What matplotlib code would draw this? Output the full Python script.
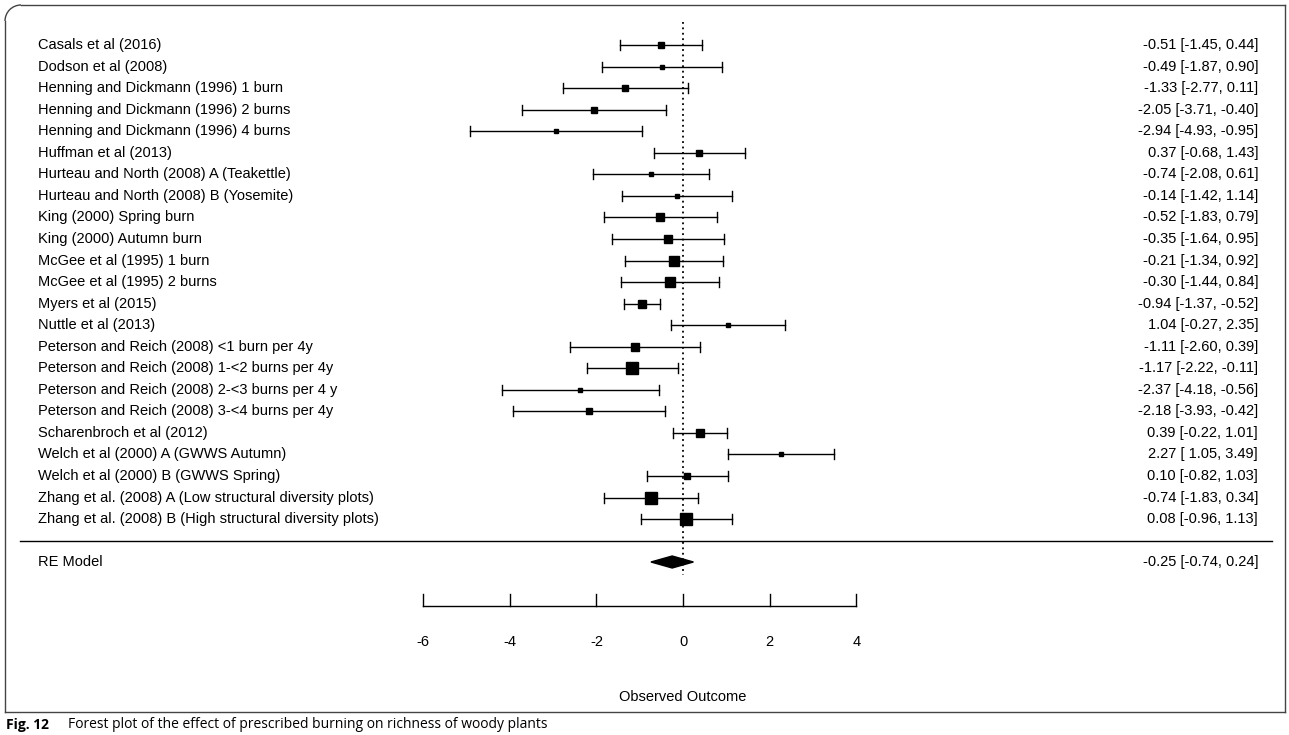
import matplotlib
matplotlib.use("Agg")
import matplotlib.pyplot as plt
from matplotlib.patches import Polygon, Arc

studies = ["Casals et al (2016)", "Dodson et al (2008)", "Henning and Dickmann (1996) 1 burn",
 "Henning and Dickmann (1996) 2 burns", "Henning and Dickmann (1996) 4 burns", "Huffman et al (2013)",
 "Hurteau and North (2008) A (Teakettle)", "Hurteau and North (2008) B (Yosemite)",
 "King (2000) Spring burn", "King (2000) Autumn burn", "McGee et al (1995) 1 burn",
 "McGee et al (1995) 2 burns", "Myers et al (2015)", "Nuttle et al (2013)",
 "Peterson and Reich (2008) <1 burn per 4y", "Peterson and Reich (2008) 1-<2 burns per 4y",
 "Peterson and Reich (2008) 2-<3 burns per 4 y", "Peterson and Reich (2008) 3-<4 burns per 4y",
 "Scharenbroch et al (2012)", "Welch et al (2000) A (GWWS Autumn)", "Welch et al (2000) B (GWWS Spring)",
 "Zhang et al. (2008) A (Low structural diversity plots)",
 "Zhang et al. (2008) B (High structural diversity plots)"]
est = [-0.51,-0.49,-1.33,-2.05,-2.94,0.37,-0.74,-0.14,-0.52,-0.35,-0.21,-0.30,-0.94,1.04,-1.11,-1.17,-2.37,-2.18,0.39,2.27,0.10,-0.74,0.08]
lo = [-1.45,-1.87,-2.77,-3.71,-4.93,-0.68,-2.08,-1.42,-1.83,-1.64,-1.34,-1.44,-1.37,-0.27,-2.60,-2.22,-4.18,-3.93,-0.22,1.05,-0.82,-1.83,-0.96]
hi = [0.44,0.90,0.11,-0.40,-0.95,1.43,0.61,1.14,0.79,0.95,0.92,0.84,-0.52,2.35,0.39,-0.11,-0.56,-0.42,1.01,3.49,1.03,0.34,1.13]
sizes = [5,3,6,5,4,6,4,3,7,8,10,9,8,4,7,12,4,5,8,4,6,12,11]
re_est, re_lo, re_hi = -0.25, -0.74, 0.24
ticks = [-6,-4,-2,0,2,4]

W, H = 1289, 735
fig = plt.figure(figsize=(W/100, H/100), dpi=100)
ax = fig.add_axes([0,0,1,1])
sc = 43.3; x0 = 683
ax.set_xlim((0-x0)/sc, (W-x0)/sc)
ax.set_ylim(H, 0)
ax.axis("off")
fs = 10.5
px = lambda p: (p-x0)/sc

for i, s in enumerate(studies):
    y = 45 + i*21.55
    ax.text(px(38), y, s, fontsize=fs, va="center", ha="left", family="Liberation Sans")
    ax.plot([lo[i], hi[i]], [y, y], color="black", lw=1)
    for v in (lo[i], hi[i]):
        ax.plot([v, v], [y-5, y+5], color="black", lw=1)
    ax.plot(est[i], y, marker="s", color="black", ms=sizes[i]*0.75, mec="black")
    ax.text(px(1258), y, f"{est[i]:.2f} [{lo[i]:5.2f}, {hi[i]:5.2f}]".replace("  "," "), fontsize=fs,
            va="center", ha="right", family="Liberation Sans")

yre = 562
ax.add_patch(Polygon([[re_lo, yre], [re_est, yre-6], [re_hi, yre], [re_est, yre+6]], closed=True, color="black"))
ax.text(px(38), yre, "RE Model", fontsize=fs, va="center", family="Liberation Sans")
ax.text(px(1258), yre, f"{re_est:.2f} [{re_lo:.2f}, {re_hi:.2f}]", fontsize=fs, va="center", ha="right", family="Liberation Sans")
ax.plot([px(20), px(1272)], [541, 541], color="black", lw=1)
ax.plot([0, 0], [22, 575], color="black", lw=1.3, ls=(0, (1, 2)))

ay = 606
ax.plot([ticks[0], ticks[-1]], [ay, ay], color="black", lw=1)
for t in ticks:
    ax.plot([t, t], [ay, ay-12], color="black", lw=1)
    ax.text(t, 642, f"{t}", fontsize=fs, ha="center", va="center", family="Liberation Sans")
ax.text(0, 697, "Observed Outcome", fontsize=fs, ha="center", va="center", family="Liberation Sans")

# frame
r = 16
ax.plot([px(5), px(5)], [5+r, 712], color="#444", lw=1)
ax.plot([px(5+r), px(1285)], [5, 5], color="#444", lw=1)
ax.plot([px(1285), px(1285)], [5, 712], color="#444", lw=1)
ax.plot([px(5), px(1285)], [712, 712], color="#444", lw=1)
ax.add_patch(Arc((px(5+r), 5+r), 2*r/sc, 2*r, theta1=180, theta2=270, color="#444", lw=1))

ax.text(px(6), 725, "Fig. 12", fontsize=10, fontweight="bold", va="center", family="Open Sans")
ax.text(px(68), 725, "Forest plot of the effect of prescribed burning on richness of woody plants",
        fontsize=10, va="center", family="Open Sans")
fig.savefig("out.png", dpi=100)
